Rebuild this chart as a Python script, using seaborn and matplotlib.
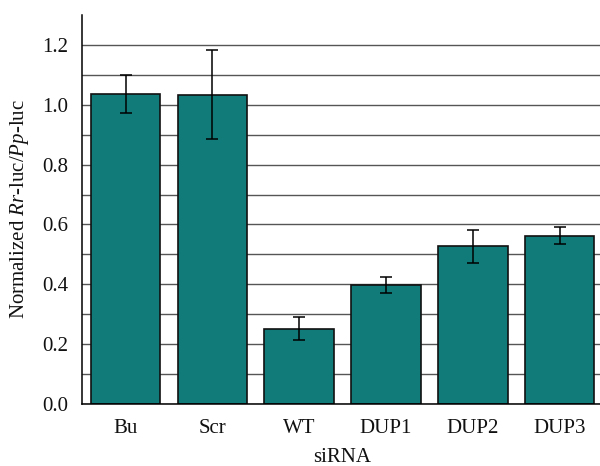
import matplotlib
matplotlib.use("Agg")
import matplotlib.pyplot as plt
from matplotlib.ticker import FixedLocator
import seaborn as sns
import pandas as pd
import numpy as np

# Relative luciferase activity per siRNA
categories = ["Bu", "Scr", "WT", "DUP1", "DUP2", "DUP3"]
means = [1.035, 1.034, 0.252, 0.398, 0.527, 0.562]
errors = [0.063, 0.150, 0.038, 0.027, 0.055, 0.028]
yticks = [0.0, 0.2, 0.4, 0.6, 0.8, 1.0, 1.2]
ytick_labels = ["0.0", "0.2", "0.4", "0.6", "0.8", "1.0", "1.2"]

sns.set_theme(style="white")
plt.rcParams["font.family"] = ["Liberation Serif", "DejaVu Serif"]
plt.rcParams["mathtext.fontset"] = "custom"
plt.rcParams["mathtext.rm"] = "Liberation Serif"
plt.rcParams["mathtext.it"] = "Liberation Serif:italic"

df = pd.DataFrame({"siRNA": categories, "value": means})

fig = plt.figure(figsize=(6.0, 4.66), dpi=100)
ax = fig.add_axes([0.137, 0.133, 0.868, 0.835])

ax.set_axisbelow(True)
ax.yaxis.grid(True, which="both", color="#555555", linewidth=1.0)
ax.xaxis.grid(False)

sns.barplot(data=df, x="siRNA", y="value", color="#117b7a", saturation=1,
            width=0.8, edgecolor="#111111", linewidth=1.2, errorbar=None, ax=ax)
ax.errorbar(np.arange(len(categories)), means, yerr=errors, fmt="none",
            ecolor="black", elinewidth=1.1, capsize=4.5, capthick=1.1, zorder=5)

ax.set_xlim(-0.5, 5.5)
ax.set_ylim(0, 1.3)
ax.yaxis.set_major_locator(FixedLocator(yticks))
ax.yaxis.set_minor_locator(FixedLocator([0.1, 0.3, 0.5, 0.7, 0.9, 1.1]))
ax.set_yticklabels(ytick_labels)
ax.xaxis.set_minor_locator(FixedLocator(np.arange(-0.5, 5.6, 1.0)))

for side in ["top", "right"]:
    ax.spines[side].set_visible(False)
for side in ["left", "bottom"]:
    ax.spines[side].set_color("black")
    ax.spines[side].set_linewidth(1.1)

ax.tick_params(axis="both", which="major", direction="out", length=6, width=1.1,
               color="black", labelsize=15, labelcolor="#111111")
ax.tick_params(axis="y", which="minor", direction="out", length=6, width=1.1, color="black")
ax.tick_params(axis="x", which="minor", direction="out", length=4, width=1.1, color="black")
ax.tick_params(axis="x", which="major", pad=5)
ax.tick_params(axis="y", which="major", pad=4)

ax.set_xlabel("siRNA", fontsize=15, color="#111111", labelpad=7)
ax.set_ylabel(r"Normalized $\mathit{Rr}$-luc/$\mathit{Pp}$-luc", fontsize=15,
              color="#111111", labelpad=8)

fig.savefig("out.png", dpi=100)
